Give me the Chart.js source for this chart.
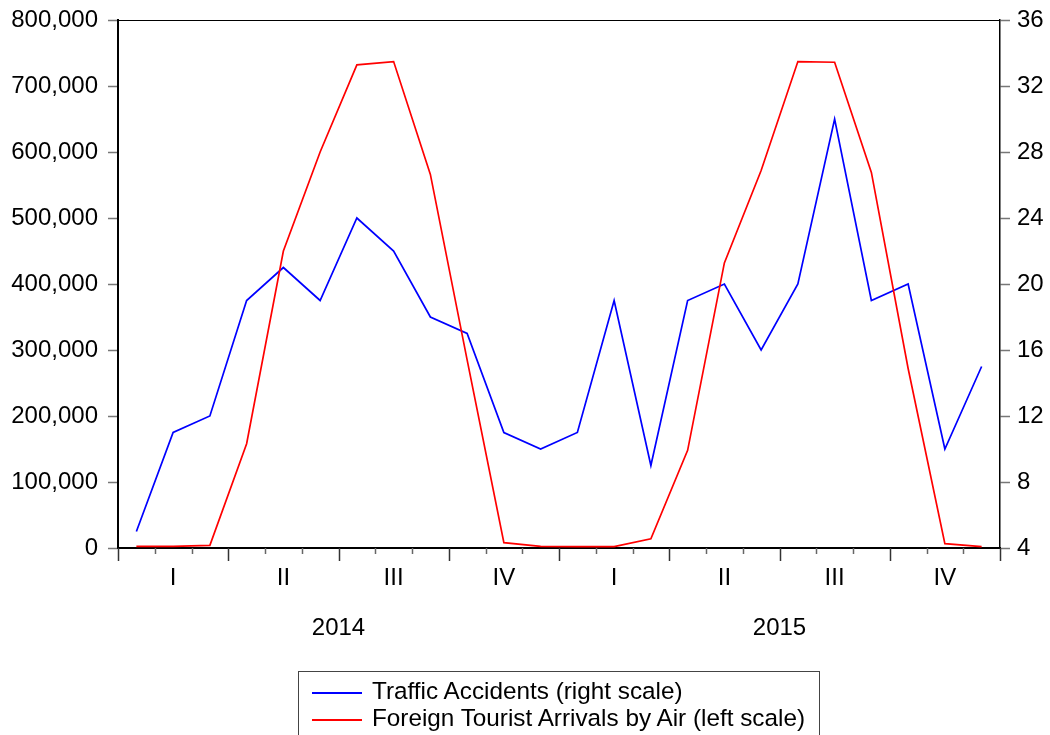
<!DOCTYPE html>
<html>
<head>
<meta charset="utf-8">
<script src="https://cdn.jsdelivr.net/npm/chart.js@4"></script>
<style>
  body { margin: 0; background: #fff; }
  #wrap { position: relative; width: 1050px; height: 735px; overflow: hidden; }
  #legend {
    position: absolute; left: 298px; top: 671px; width: 522px; height: 90px;
    border: 1.5px solid #444; font: 24.3px "Liberation Sans", Arial, sans-serif; color: #000;
    padding-top: 5px; box-sizing: border-box;
  }
  .item { height: 27px; line-height: 27px; white-space: nowrap; }
  .swatch { display: inline-block; width: 50px; height: 0; border-top: 2px solid; vertical-align: middle; margin: 0 10px 0 13px; }
</style>
</head>
<body>
<div id="wrap">
  <canvas id="plot"></canvas>
  <div id="legend"></div>
</div>
<script>
// meses 2014-2015
let meses = ['2014-01','2014-02','2014-03','2014-04','2014-05','2014-06','2014-07','2014-08','2014-09','2014-10','2014-11','2014-12',
             '2015-01','2015-02','2015-03','2015-04','2015-05','2015-06','2015-07','2015-08','2015-09','2015-10','2015-11','2015-12']
let trimestres = ['I', 'II', 'III', 'IV']
let anios = ['2014', '2015']

// Traffic Accidents (eje derecho)
let accidentes = [5, 11, 12, 19, 21, 19, 24, 22, 18, 17, 11, 10,
                  11, 19, 9, 19, 20, 16, 20, 30, 19, 20, 10, 15]

// Foreign Tourist Arrivals by Air (eje izquierdo)
let turistas = [2500, 2500, 4000, 158000, 450000, 600000, 732000, 737000, 566000, 285000, 8000, 2500,
                2000, 2000, 14000, 148000, 432000, 572000, 737000, 736000, 569000, 272000, 6500, 2000]

let fuente = { family: '"Liberation Sans", Arial, sans-serif', size: 24 }

// marco superior y marcas de meses / trimestres
let marco = {
  id: 'marco',
  afterDraw(chart) {
    let { ctx, chartArea: a, scales } = chart
    let x = scales.x
    ctx.save()
    ctx.strokeStyle = '#000'
    ctx.lineWidth = 1
    ctx.beginPath()
    ctx.moveTo(a.left, a.top + 0.5)
    ctx.lineTo(a.right, a.top + 0.5)
    ctx.stroke()

    for (let i = 0; i <= meses.length; i++) {
      let px = Math.round(x.getPixelForValue(i - 0.5)) + 0.5
      let mayor = i % 3 === 0
      ctx.strokeStyle = mayor ? '#333' : '#666'
      ctx.lineWidth = 1.5
      ctx.beginPath()
      ctx.moveTo(px, a.bottom)
      ctx.lineTo(px, a.bottom + (mayor ? 13 : 6))
      ctx.stroke()
    }
    ctx.restore()
  }
}

let ajusteY = (ancho) => (s) => {
  s.width = ancho
  s.paddingTop = 0
  s.paddingBottom = 0
}

let config = {
  type: 'line',
  data: {
    labels: meses,
    datasets: [
      {
        label: 'Traffic Accidents (right scale)',
        data: accidentes,
        borderColor: '#0000ff',
        yAxisID: 'y1',
        order: 1,
      },
      {
        label: 'Foreign Tourist Arrivals by Air (left scale)',
        data: turistas,
        borderColor: '#ff0000',
        yAxisID: 'y',
        order: 0,
      },
    ]
  },
  options: {
    responsive: true,
    maintainAspectRatio: false,
    animation: false,
    layout: { padding: { top: 20, left: 0, right: 0, bottom: 0 } },
    elements: {
      line: { borderWidth: 1.7, tension: 0 },
      point: { radius: 0 }
    },
    plugins: {
      legend: { display: false },
      tooltip: { enabled: false }
    },
    scales: {
      x: {
        type: 'category',
        position: 'bottom',
        offset: true,
        grid: { display: false, drawTicks: false },
        border: { display: true, color: '#000', width: 2 },
        ticks: {
          autoSkip: false, maxRotation: 0, padding: 16, color: '#000', font: fuente,
          callback: (v, i) => i % 3 === 1 ? trimestres[Math.floor(i / 3) % 4] : ''
        },
        afterFit: (s) => { s.height = 50; s.paddingLeft = 0; s.paddingRight = 0 }
      },
      yr: {
        type: 'linear',
        position: 'bottom',
        min: 0,
        max: 24,
        grid: { display: false, drawTicks: false },
        border: { display: false },
        ticks: {
          stepSize: 6, autoSkip: false, maxRotation: 0, padding: 16, color: '#000', font: fuente,
          callback: (v) => v % 12 === 6 ? anios[(v - 6) / 12] : ''
        },
        afterFit: (s) => { s.height = 137; s.paddingLeft = 0; s.paddingRight = 0 }
      },
      y: {
        position: 'left',
        min: 0,
        max: 800000,
        grid: { drawOnChartArea: false, tickLength: 10, tickColor: '#777', tickWidth: 1.5 },
        border: { color: '#000', width: 2 },
        ticks: {
          stepSize: 100000, padding: 10, color: '#000', font: fuente,
          callback: (v) => v.toLocaleString('en-US')
        },
        afterFit: ajusteY(118)
      },
      y1: {
        position: 'right',
        min: 4,
        max: 36,
        grid: { drawOnChartArea: false, tickLength: 10, tickColor: '#777', tickWidth: 1.5 },
        border: { color: '#000', width: 1.5 },
        ticks: { stepSize: 4, padding: 7, color: '#000', font: fuente },
        afterFit: ajusteY(50)
      }
    }
  },
  plugins: [marco]
}

let chart = new Chart(document.getElementById('plot'), config)

// leyenda en recuadro, a partir de los datasets
let leyenda = document.getElementById('legend')
chart.data.datasets.forEach(ds => {
  leyenda.innerHTML += `<div class="item"><span class="swatch" style="border-color:${ds.borderColor}"></span>${ds.label}</div>`
})
</script>
</body>
</html>
